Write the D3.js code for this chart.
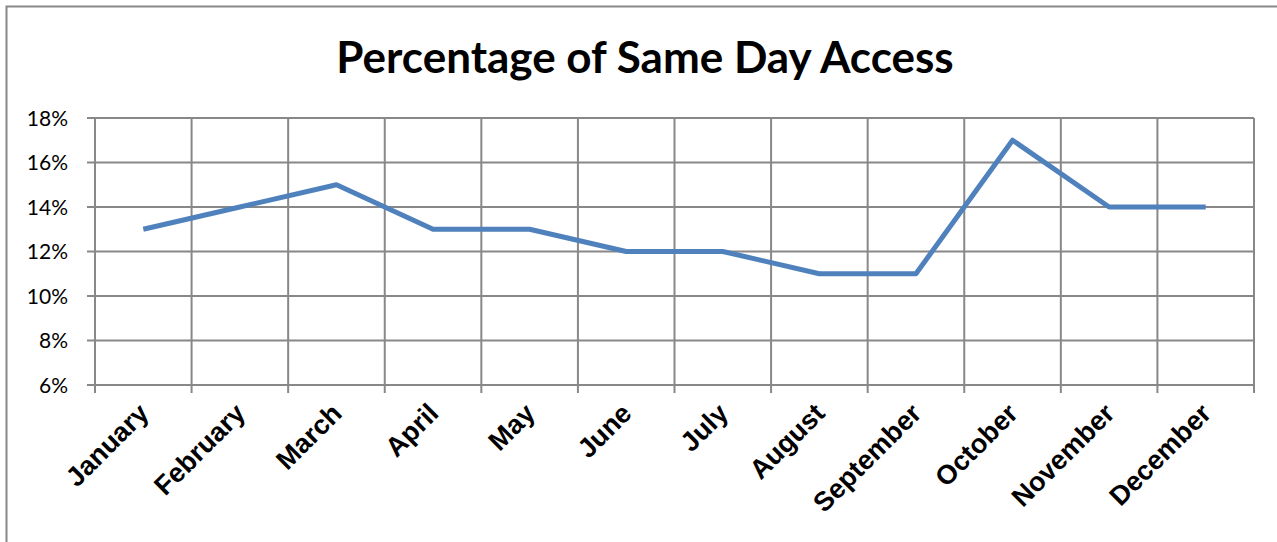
<!DOCTYPE html>
<html>
<head>
<meta charset="utf-8">
<script src="https://cdn.jsdelivr.net/npm/d3@7"></script>
<style>
  body { margin: 0; background: #fff; }
</style>
</head>
<body>
<div id="chart"></div>
<script>
var months = ["January", "February", "March", "April", "May", "June",
              "July", "August", "September", "October", "November", "December"];
var access = [13, 14, 15, 13, 13, 12, 12, 11, 11, 17, 14, 14];
var yTicks = [6, 8, 10, 12, 14, 16, 18];

var W = 1277, H = 542;
var plotLeft = 95, plotRight = 1254, plotTop = 118, plotBottom = 385;

var svg = d3.select("#chart").append("svg")
    .attr("width", W)
    .attr("height", H);

// outer chart border (runs off right and bottom edge)
svg.append("rect")
    .attr("x", 6.5).attr("y", 6.5)
    .attr("width", 1300).attr("height", 600)
    .attr("fill", "none")
    .attr("stroke", "#888")
    .attr("stroke-width", 2);

svg.append("text")
    .attr("x", 645).attr("y", 73)
    .attr("text-anchor", "middle")
    .attr("font-family", "Lato, 'Open Sans', sans-serif")
    .attr("font-weight", "bold")
    .attr("font-size", 44)
    .text("Percentage of Same Day Access");

var x = d3.scaleBand().domain(months).range([plotLeft, plotRight]);
var y = d3.scaleLinear().domain([6, 18]).range([plotBottom, plotTop]);

// horizontal gridlines
svg.append("g")
    .selectAll("line")
    .data(yTicks)
    .enter().append("line")
    .attr("x1", plotLeft - 8).attr("x2", plotRight)
    .attr("y1", function(d) { return y(d); })
    .attr("y2", function(d) { return y(d); })
    .attr("stroke", "#888").attr("stroke-width", 2);

// vertical gridlines at category boundaries
var bounds = months.map(function(m) { return x(m); }).concat([plotRight]);
svg.append("g")
    .selectAll("line")
    .data(bounds)
    .enter().append("line")
    .attr("x1", function(d) { return d; })
    .attr("x2", function(d) { return d; })
    .attr("y1", plotTop).attr("y2", plotBottom + 8)
    .attr("stroke", "#888").attr("stroke-width", 2);

// y labels
svg.append("g")
    .selectAll("text")
    .data(yTicks)
    .enter().append("text")
    .attr("x", 68)
    .attr("y", function(d) { return y(d) + 7.5; })
    .attr("text-anchor", "end")
    .attr("font-family", "Lato, 'Open Sans', sans-serif")
    .attr("font-size", 21)
    .attr("fill", "#000")
    .text(function(d) { return d + "%"; });

// x labels, rotated
svg.append("g")
    .selectAll("text")
    .data(months)
    .enter().append("text")
    .attr("transform", function(d) {
        return "translate(" + (x(d) + x.bandwidth() / 2 + 7) + ",415) rotate(-45)";
    })
    .attr("text-anchor", "end")
    .attr("font-family", "'Liberation Sans', Arial, sans-serif")
    .attr("font-weight", "bold")
    .attr("font-size", 27)
    .text(function(d) { return d; });

var line = d3.line()
    .x(function(d, i) { return x(months[i]) + x.bandwidth() / 2; })
    .y(function(d) { return y(d); });

svg.append("path")
    .datum(access)
    .attr("d", line)
    .attr("fill", "none")
    .attr("stroke", "#4F81BD")
    .attr("stroke-width", 5)
    .attr("stroke-linejoin", "round");
</script>
</body>
</html>
